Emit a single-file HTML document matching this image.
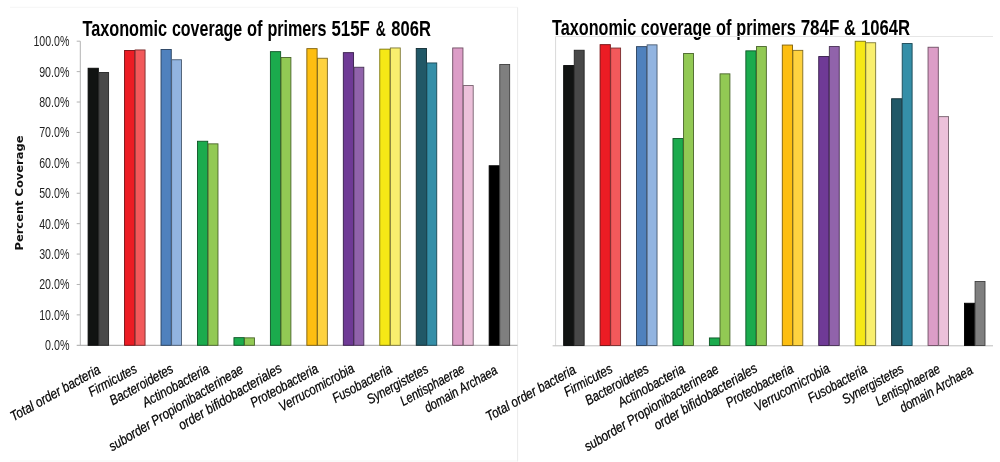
<!DOCTYPE html>
<html lang="en"><head><meta charset="utf-8"><title>Taxonomic coverage of primers</title>
<style>html,body{margin:0;padding:0;background:#fff}svg{display:block}text{font-family:"Liberation Sans",sans-serif}.t{font-weight:bold;font-size:21.3px;fill:#000}.y{font-size:15.5px;fill:#1f1f1f;text-anchor:end}.x{font-size:14px;font-style:italic;fill:#000;stroke:#000;stroke-width:0.25;text-anchor:end}.yt{font-family:"DejaVu Sans",sans-serif;font-weight:bold;font-size:10px;fill:#111;text-anchor:middle}</style></head><body>
<svg width="1000" height="462" viewBox="0 0 1000 462">
<rect width="1000" height="462" fill="#fff"/>
<path d="M10 7.3H517.5M10 461H517.5" fill="none" stroke="#f5f5f5" stroke-width="1"/>
<path d="M517.6 7.3V461.5" fill="none" stroke="#ebebeb" stroke-width="1"/>
<g>
<text class="t" y="36"><tspan x="82.4" textLength="84.72" lengthAdjust="spacingAndGlyphs">Taxonomic</tspan> <tspan x="171.93" textLength="70.29" lengthAdjust="spacingAndGlyphs">coverage</tspan> <tspan x="247.03" textLength="15.54" lengthAdjust="spacingAndGlyphs">of</tspan> <tspan x="267.38" textLength="59.19" lengthAdjust="spacingAndGlyphs">primers</tspan> <tspan x="331.38" textLength="38.48" lengthAdjust="spacingAndGlyphs">515F</tspan> <tspan x="375.78" textLength="9.99" lengthAdjust="spacingAndGlyphs">&amp;</tspan> <tspan x="391.32" textLength="39.59" lengthAdjust="spacingAndGlyphs">806R</tspan></text>
<path d="M80.3 41.2V345.3" stroke="#b3b3b3" stroke-width="1" fill="none"/>
<path d="M76.7 345.3H517.5" stroke="#a6a6a6" stroke-width="1" fill="none"/>
<text class="y" x="69.4" y="350.2" textLength="24.4" lengthAdjust="spacingAndGlyphs">0.0%</text>
<path d="M76.7 314.89H80.3" stroke="#b3b3b3" stroke-width="1" fill="none"/>
<text class="y" x="69.4" y="319.79" textLength="30.2" lengthAdjust="spacingAndGlyphs">10.0%</text>
<path d="M76.7 284.48H80.3" stroke="#b3b3b3" stroke-width="1" fill="none"/>
<text class="y" x="69.4" y="289.38" textLength="30.2" lengthAdjust="spacingAndGlyphs">20.0%</text>
<path d="M76.7 254.07H80.3" stroke="#b3b3b3" stroke-width="1" fill="none"/>
<text class="y" x="69.4" y="258.97" textLength="30.2" lengthAdjust="spacingAndGlyphs">30.0%</text>
<path d="M76.7 223.66H80.3" stroke="#b3b3b3" stroke-width="1" fill="none"/>
<text class="y" x="69.4" y="228.56" textLength="30.2" lengthAdjust="spacingAndGlyphs">40.0%</text>
<path d="M76.7 193.25H80.3" stroke="#b3b3b3" stroke-width="1" fill="none"/>
<text class="y" x="69.4" y="198.15" textLength="30.2" lengthAdjust="spacingAndGlyphs">50.0%</text>
<path d="M76.7 162.84H80.3" stroke="#b3b3b3" stroke-width="1" fill="none"/>
<text class="y" x="69.4" y="167.74" textLength="30.2" lengthAdjust="spacingAndGlyphs">60.0%</text>
<path d="M76.7 132.43H80.3" stroke="#b3b3b3" stroke-width="1" fill="none"/>
<text class="y" x="69.4" y="137.33" textLength="30.2" lengthAdjust="spacingAndGlyphs">70.0%</text>
<path d="M76.7 102.02H80.3" stroke="#b3b3b3" stroke-width="1" fill="none"/>
<text class="y" x="69.4" y="106.92" textLength="30.2" lengthAdjust="spacingAndGlyphs">80.0%</text>
<path d="M76.7 71.61H80.3" stroke="#b3b3b3" stroke-width="1" fill="none"/>
<text class="y" x="69.4" y="76.51" textLength="30.2" lengthAdjust="spacingAndGlyphs">90.0%</text>
<path d="M76.7 41.2H80.3" stroke="#b3b3b3" stroke-width="1" fill="none"/>
<text class="y" x="69.4" y="46.1" textLength="36" lengthAdjust="spacingAndGlyphs">100.0%</text>
<text class="yt" transform="translate(22.7 193) rotate(-90)" textLength="115" lengthAdjust="spacingAndGlyphs">Percent Coverage</text>
<rect x="88.1" y="68.25" width="10.25" height="277.05" fill="#111312" stroke="#080909" stroke-width="0.9"/>
<rect x="98.7" y="72.55" width="9.9" height="272.75" fill="#484848" stroke="#242424" stroke-width="0.9"/>
<rect x="124.56" y="50.45" width="10.25" height="294.85" fill="#ec1c24" stroke="#760e12" stroke-width="0.9"/>
<rect x="135.16" y="49.95" width="9.9" height="295.35" fill="#f2595b" stroke="#792c2d" stroke-width="0.9"/>
<rect x="161.02" y="49.45" width="10.25" height="295.85" fill="#4f81bd" stroke="#27405e" stroke-width="0.9"/>
<rect x="171.62" y="59.75" width="9.9" height="285.55" fill="#92b4e0" stroke="#495a70" stroke-width="0.9"/>
<rect x="197.48" y="141.25" width="10.25" height="204.05" fill="#1bab4d" stroke="#0d5526" stroke-width="0.9"/>
<rect x="208.08" y="143.85" width="9.9" height="201.45" fill="#92c954" stroke="#49642a" stroke-width="0.9"/>
<rect x="233.94" y="337.65" width="10.25" height="7.65" fill="#1bab4d" stroke="#0d5526" stroke-width="0.9"/>
<rect x="244.54" y="337.85" width="9.9" height="7.45" fill="#92c954" stroke="#49642a" stroke-width="0.9"/>
<rect x="270.4" y="51.65" width="10.25" height="293.65" fill="#1bab4d" stroke="#0d5526" stroke-width="0.9"/>
<rect x="281" y="57.45" width="9.9" height="287.85" fill="#92c954" stroke="#49642a" stroke-width="0.9"/>
<rect x="306.86" y="48.65" width="10.25" height="296.65" fill="#fdbe11" stroke="#7e5f08" stroke-width="0.9"/>
<rect x="317.46" y="58.25" width="9.9" height="287.05" fill="#fed23f" stroke="#7f691f" stroke-width="0.9"/>
<rect x="343.32" y="52.65" width="10.25" height="292.65" fill="#6f3a96" stroke="#371d4b" stroke-width="0.9"/>
<rect x="353.92" y="67.25" width="9.9" height="278.05" fill="#9163ab" stroke="#483155" stroke-width="0.9"/>
<rect x="379.78" y="49.15" width="10.25" height="296.15" fill="#f5e816" stroke="#7a740b" stroke-width="0.9"/>
<rect x="390.38" y="47.95" width="9.9" height="297.35" fill="#f9ef6e" stroke="#7c7737" stroke-width="0.9"/>
<rect x="416.24" y="48.45" width="10.25" height="296.85" fill="#215867" stroke="#102c33" stroke-width="0.9"/>
<rect x="426.84" y="62.95" width="9.9" height="282.35" fill="#358fa8" stroke="#1a4754" stroke-width="0.9"/>
<rect x="452.7" y="47.95" width="10.25" height="297.35" fill="#dc9dc7" stroke="#6e4e63" stroke-width="0.9"/>
<rect x="463.3" y="85.55" width="9.9" height="259.75" fill="#ecc0da" stroke="#76606d" stroke-width="0.9"/>
<rect x="489.16" y="165.75" width="10.25" height="179.55" fill="#000000" stroke="#000000" stroke-width="0.9"/>
<rect x="499.76" y="64.45" width="9.9" height="280.85" fill="#7f7f7f" stroke="#3f3f3f" stroke-width="0.9"/>
<text class="x" transform="translate(101.45 372.5) rotate(-29.1)" textLength="100.6" lengthAdjust="spacingAndGlyphs">Total order bacteria</text>
<text class="x" transform="translate(137.91 371.7) rotate(-28.5)" textLength="52.8" lengthAdjust="spacingAndGlyphs">Firmicutes</text>
<text class="x" transform="translate(174.37 371.7) rotate(-28.8)" textLength="70.2" lengthAdjust="spacingAndGlyphs">Bacteroidetes</text>
<text class="x" transform="translate(210.43 371.9) rotate(-28.8)" textLength="74.1" lengthAdjust="spacingAndGlyphs">Actinobacteria</text>
<text class="x" transform="translate(244.39 371.9) rotate(-31.1)" textLength="154.3" lengthAdjust="spacingAndGlyphs">suborder Propionibacterineae</text>
<text class="x" transform="translate(282.85 371) rotate(-30.4)" textLength="117.1" lengthAdjust="spacingAndGlyphs">order bifidobacteriales</text>
<text class="x" transform="translate(319.31 371.6) rotate(-28.8)" textLength="75.1" lengthAdjust="spacingAndGlyphs">Proteobacteria</text>
<text class="x" transform="translate(355.37 371.4) rotate(-28.8)" textLength="83.6" lengthAdjust="spacingAndGlyphs">Verrucomicrobia</text>
<text class="x" transform="translate(392.93 371.8) rotate(-28.8)" textLength="65.5" lengthAdjust="spacingAndGlyphs">Fusobacteria</text>
<text class="x" transform="translate(429.39 371.8) rotate(-28.8)" textLength="67.8" lengthAdjust="spacingAndGlyphs">Synergistetes</text>
<text class="x" transform="translate(465.85 371.8) rotate(-28.8)" textLength="71.5" lengthAdjust="spacingAndGlyphs">Lentisphaerae</text>
<text class="x" transform="translate(498.55 373.05) rotate(-29.3)" textLength="81.3" lengthAdjust="spacingAndGlyphs">domain Archaea</text>
</g>
<g>
<text class="t" y="35"><tspan x="552.03" textLength="84.35" lengthAdjust="spacingAndGlyphs">Taxonomic</tspan> <tspan x="640.82" textLength="70.29" lengthAdjust="spacingAndGlyphs">coverage</tspan> <tspan x="715.92" textLength="15.54" lengthAdjust="spacingAndGlyphs">of</tspan> <tspan x="736.27" textLength="59.56" lengthAdjust="spacingAndGlyphs">primers</tspan> <tspan x="800.64" textLength="38.85" lengthAdjust="spacingAndGlyphs">784F</tspan> <tspan x="843.93" textLength="11.84" lengthAdjust="spacingAndGlyphs">&amp;</tspan> <tspan x="860.95" textLength="49.2" lengthAdjust="spacingAndGlyphs">1064R</tspan></text>
<path d="M555.6 36.5H993" stroke="#e6e6e6" stroke-width="1" fill="none"/>
<path d="M555.6 36.5V345.5" stroke="#d9d9d9" stroke-width="1" fill="none"/>
<path d="M552.6 345.8H993" stroke="#bdbdbd" stroke-width="1" fill="none"/>
<rect x="563.65" y="65.55" width="10.25" height="279.95" fill="#111312" stroke="#080909" stroke-width="0.9"/>
<rect x="574.25" y="50.25" width="9.9" height="295.25" fill="#484848" stroke="#242424" stroke-width="0.9"/>
<rect x="600.09" y="44.65" width="10.25" height="300.85" fill="#ec1c24" stroke="#760e12" stroke-width="0.9"/>
<rect x="610.69" y="48.05" width="9.9" height="297.45" fill="#f2595b" stroke="#792c2d" stroke-width="0.9"/>
<rect x="636.53" y="46.65" width="10.25" height="298.85" fill="#4f81bd" stroke="#27405e" stroke-width="0.9"/>
<rect x="647.13" y="44.85" width="9.9" height="300.65" fill="#92b4e0" stroke="#495a70" stroke-width="0.9"/>
<rect x="672.97" y="138.55" width="10.25" height="206.95" fill="#1bab4d" stroke="#0d5526" stroke-width="0.9"/>
<rect x="683.57" y="53.45" width="9.9" height="292.05" fill="#92c954" stroke="#49642a" stroke-width="0.9"/>
<rect x="709.41" y="337.95" width="10.25" height="7.55" fill="#1bab4d" stroke="#0d5526" stroke-width="0.9"/>
<rect x="720.01" y="73.85" width="9.9" height="271.65" fill="#92c954" stroke="#49642a" stroke-width="0.9"/>
<rect x="745.85" y="50.85" width="10.25" height="294.65" fill="#1bab4d" stroke="#0d5526" stroke-width="0.9"/>
<rect x="756.45" y="46.55" width="9.9" height="298.95" fill="#92c954" stroke="#49642a" stroke-width="0.9"/>
<rect x="782.29" y="45.05" width="10.25" height="300.45" fill="#fdbe11" stroke="#7e5f08" stroke-width="0.9"/>
<rect x="792.89" y="50.35" width="9.9" height="295.15" fill="#fed23f" stroke="#7f691f" stroke-width="0.9"/>
<rect x="818.73" y="56.55" width="10.25" height="288.95" fill="#6f3a96" stroke="#371d4b" stroke-width="0.9"/>
<rect x="829.33" y="46.55" width="9.9" height="298.95" fill="#9163ab" stroke="#483155" stroke-width="0.9"/>
<rect x="855.17" y="41.25" width="10.25" height="304.25" fill="#f5e816" stroke="#7a740b" stroke-width="0.9"/>
<rect x="865.77" y="42.75" width="9.9" height="302.75" fill="#f9ef6e" stroke="#7c7737" stroke-width="0.9"/>
<rect x="891.61" y="98.75" width="10.25" height="246.75" fill="#215867" stroke="#102c33" stroke-width="0.9"/>
<rect x="902.21" y="43.55" width="9.9" height="301.95" fill="#358fa8" stroke="#1a4754" stroke-width="0.9"/>
<rect x="928.05" y="47.25" width="10.25" height="298.25" fill="#dc9dc7" stroke="#6e4e63" stroke-width="0.9"/>
<rect x="938.65" y="116.65" width="9.9" height="228.85" fill="#ecc0da" stroke="#76606d" stroke-width="0.9"/>
<rect x="964.49" y="303.25" width="10.25" height="42.25" fill="#000000" stroke="#000000" stroke-width="0.9"/>
<rect x="975.09" y="281.55" width="9.9" height="63.95" fill="#7f7f7f" stroke="#3f3f3f" stroke-width="0.9"/>
<text class="x" transform="translate(577 372.5) rotate(-29.1)" textLength="100.6" lengthAdjust="spacingAndGlyphs">Total order bacteria</text>
<text class="x" transform="translate(613.44 371.7) rotate(-28.5)" textLength="52.8" lengthAdjust="spacingAndGlyphs">Firmicutes</text>
<text class="x" transform="translate(649.88 371.7) rotate(-28.8)" textLength="70.2" lengthAdjust="spacingAndGlyphs">Bacteroidetes</text>
<text class="x" transform="translate(685.92 371.9) rotate(-28.8)" textLength="74.1" lengthAdjust="spacingAndGlyphs">Actinobacteria</text>
<text class="x" transform="translate(719.86 371.9) rotate(-31.1)" textLength="154.3" lengthAdjust="spacingAndGlyphs">suborder Propionibacterineae</text>
<text class="x" transform="translate(758.3 371) rotate(-30.4)" textLength="117.1" lengthAdjust="spacingAndGlyphs">order bifidobacteriales</text>
<text class="x" transform="translate(794.74 371.6) rotate(-28.8)" textLength="75.1" lengthAdjust="spacingAndGlyphs">Proteobacteria</text>
<text class="x" transform="translate(830.78 371.4) rotate(-28.8)" textLength="83.6" lengthAdjust="spacingAndGlyphs">Verrucomicrobia</text>
<text class="x" transform="translate(868.32 371.8) rotate(-28.8)" textLength="65.5" lengthAdjust="spacingAndGlyphs">Fusobacteria</text>
<text class="x" transform="translate(904.76 371.8) rotate(-28.8)" textLength="67.8" lengthAdjust="spacingAndGlyphs">Synergistetes</text>
<text class="x" transform="translate(941.2 371.8) rotate(-28.8)" textLength="71.5" lengthAdjust="spacingAndGlyphs">Lentisphaerae</text>
<text class="x" transform="translate(973.88 373.05) rotate(-29.3)" textLength="81.3" lengthAdjust="spacingAndGlyphs">domain Archaea</text>
</g>
</svg></body></html>
